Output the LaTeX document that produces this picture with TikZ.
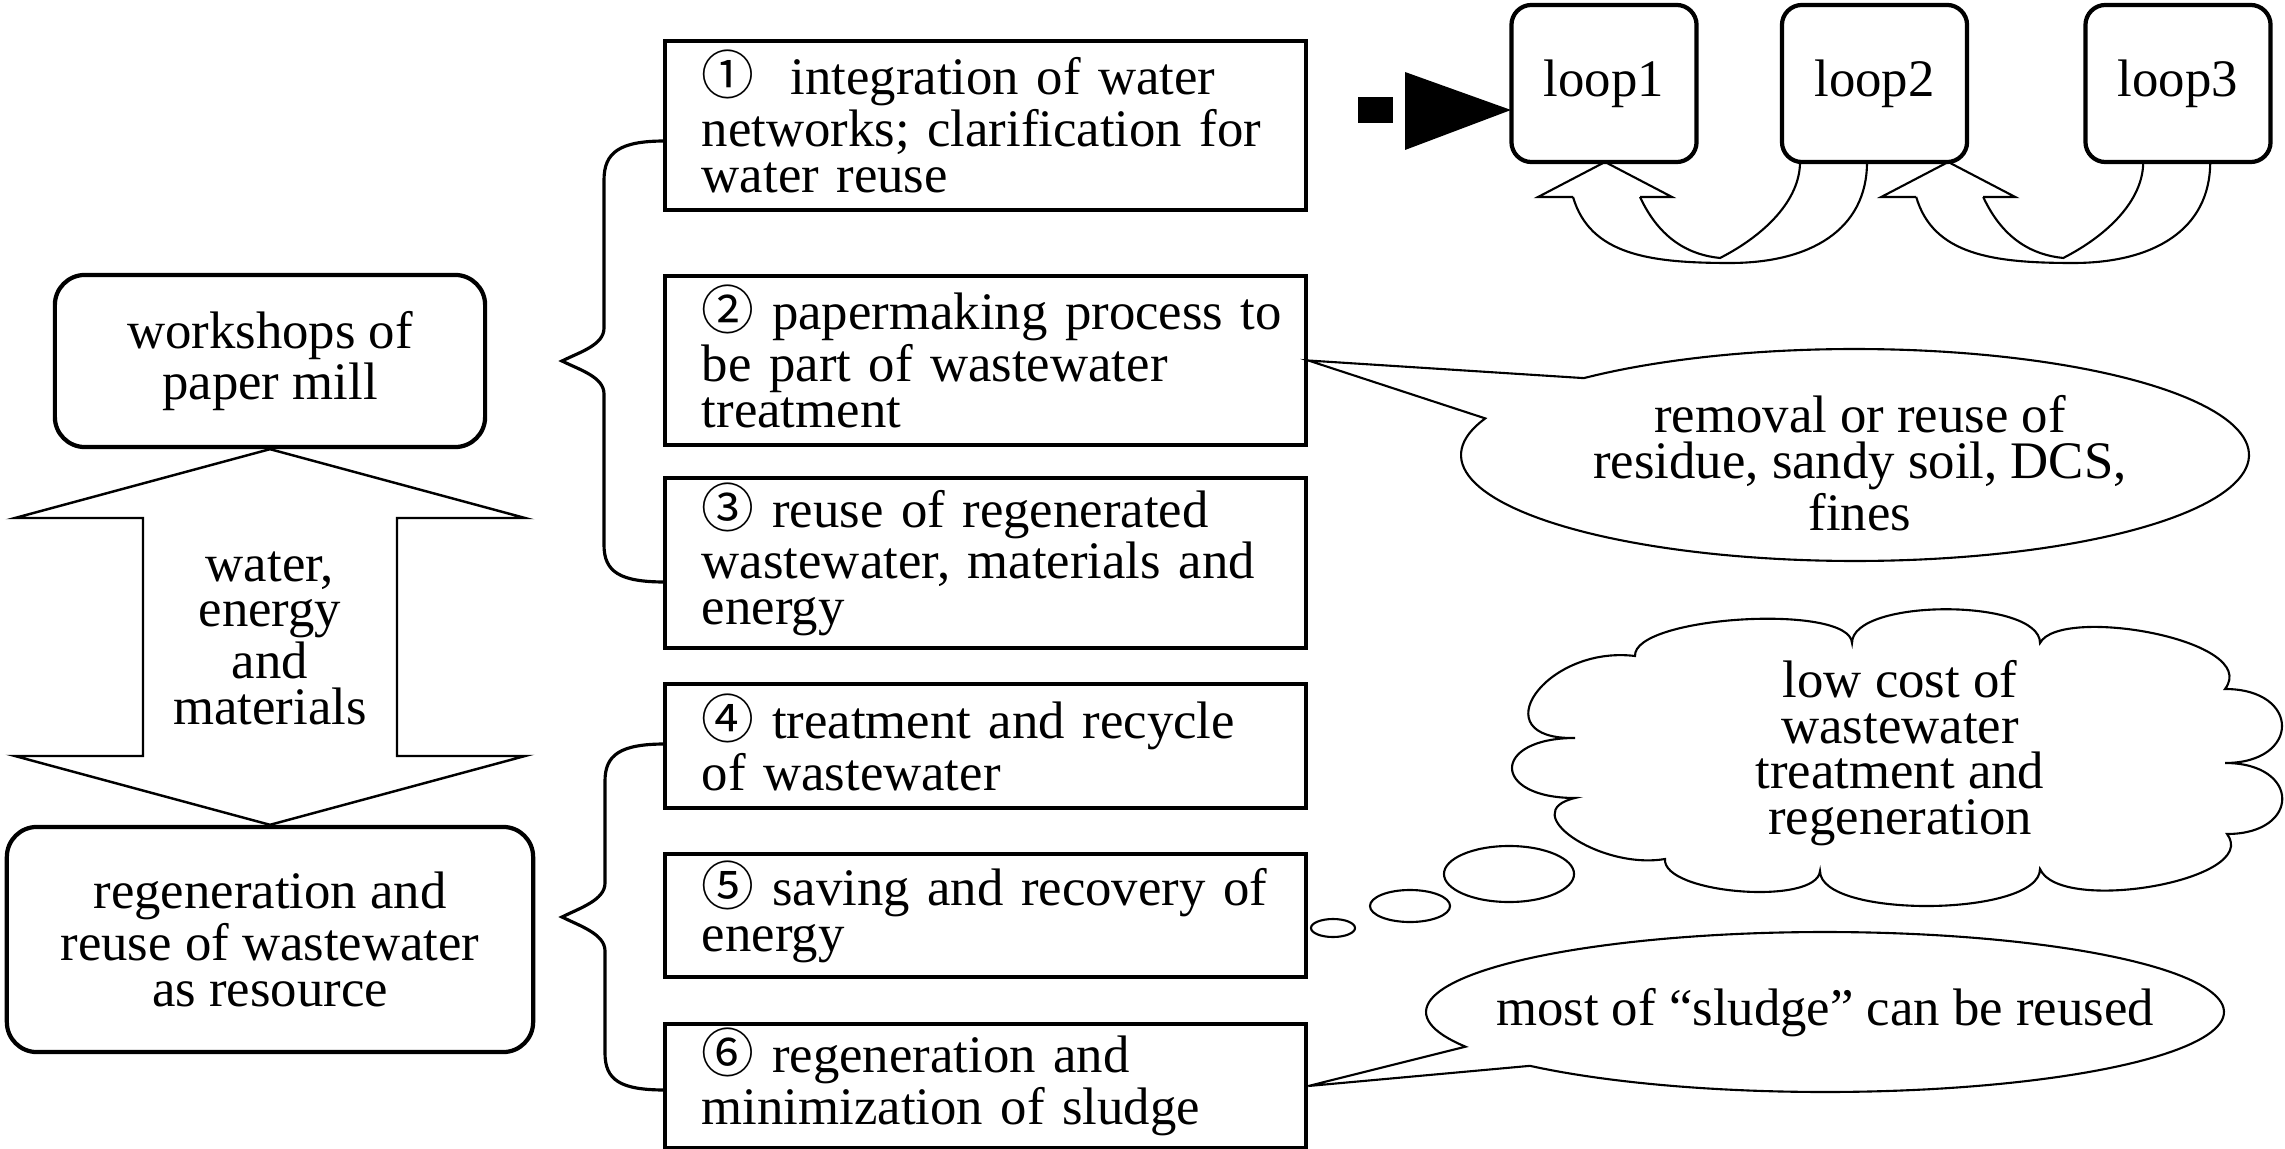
\documentclass[tikz,border=0pt]{standalone}
\usepackage{fontspec}
\setmainfont{Liberation Serif}
\newfontfamily\circfont{Noto Sans CJK SC}
\newcommand{\cnum}[1]{\smash{{\circfont\fontsize{15}{13}\selectfont #1}}}
\newcommand{\bl}[1]{\mbox{#1}}
\begin{document}
\begin{tikzpicture}[x=0.01cm, y=-0.01cm,
  every node/.style={font=\fontsize{15}{13}\selectfont},
  sbox/.style={draw, line width=1.2pt, minimum width=6.41cm, text width=5.67cm, inner xsep=0.37cm, align=left},
  rbox/.style={draw, line width=1.2pt, rounded corners=0.3cm, align=center},
  loopbox/.style={draw, line width=1.2pt, rounded corners=0.2cm, minimum width=1.85cm, minimum height=1.57cm},
  thinline/.style={line width=0.6pt},
  bracestyle/.style={line width=0.9pt},
]
\useasboundingbox (0,0) rectangle (2285,1149);

% left column
\node[rbox, minimum width=4.30cm, minimum height=1.72cm] (ws) at (270,361) {workshops of\\paper mill};
\node[rbox, minimum width=5.26cm, minimum height=2.25cm] (rg) at (270,939.5) {regeneration and\\reuse of wastewater\\as resource};
\draw[line width=0.7pt] (ws.south) -- (525,518) -- (397,518) -- (397,756) -- (525,756) -- (rg.north) -- (15,756) -- (143,756) -- (143,518) -- (15,518) -- cycle;
\node[align=center] (wem) at (270,638) {water,\\energy\\and\\materials};

% right column boxes
\node[sbox, minimum height=1.69cm] (b1) at (985.5,125.5) {\bl{\cnum{①}\hspace{0.35em} integration of water}\\\bl{networks; clarification for}\\\bl{water reuse}};
\node[sbox, minimum height=1.69cm] (b2) at (985.5,360.5) {\bl{\cnum{②} papermaking process to}\\\bl{be part of wastewater}\\\bl{treatment}};
\node[sbox, minimum height=1.70cm] (b3) at (985.5,563) {\bl{\cnum{③} reuse of regenerated}\\\bl{wastewater, materials and}\\\bl{energy}};
\node[sbox, minimum height=1.24cm] (b4) at (985.5,746) {\bl{\cnum{④} treatment and recycle}\\\bl{of wastewater}};
\node[sbox, minimum height=1.23cm] (b5) at (985.5,915.5) {\bl{\cnum{⑤} saving and recovery of}\\\bl{energy}};
\node[sbox, minimum height=1.22cm] (b6) at (985.5,1086) {\bl{\cnum{⑥} regeneration and}\\\bl{minimization of sludge}};

% braces
\draw[bracestyle] (665,141) .. controls (620,141) and (604,152) .. (604,180) -- (604,328) .. controls (604,345) and (580,352) .. (562,361) .. controls (580,370) and (604,377) .. (604,394) -- (604,545) .. controls (604,572) and (620,582) .. (665,582);
\draw[bracestyle] (665,744) .. controls (620,744) and (605,755) .. (605,781) -- (605,883) .. controls (605,900) and (580,908) .. (562,917) .. controls (580,926) and (605,934) .. (605,951) -- (605,1053) .. controls (605,1080) and (620,1090) .. (665,1090);

% loops
\node[loopbox] (l1) at (1604,83.5) {loop1};
\node[loopbox] (l2) at (1874.5,83.5) {loop2};
\node[loopbox] (l3) at (2178,83.5) {loop3};
\coordinate (l1in) at (1511,110);
\fill (1358,97) rectangle (1393,123);
\fill (1405,72) -- (1405,150) -- (l1in) -- cycle;

\foreach \s in {0,3.43}{
\begin{scope}[xshift=\s cm]
\draw[thinline] (1573,197) -- (1538,197) -- (1605,162) -- (1672,197) -- (1640,197);
\draw[thinline] (1573,197) .. controls (1590,255) and (1650,263) .. (1730,263) .. controls (1810,263) and (1867,230) .. (1867,162);
\draw[thinline] (1640,197) .. controls (1660,240) and (1690,255) .. (1720,258) .. controls (1765,235) and (1800,200) .. (1800,162);
\end{scope}
}

% speech bubble 1
\draw[thinline] plot[domain=226.5:560.2, samples=160] ({1855+394*cos(\x)}, {455+106*sin(\x)}) -- (b2.east) -- cycle;
\node[align=center] (t1) at (1860,463) {removal or reuse of\\residue, sandy soil, DCS,\\fines};

% thought cloud
\draw[thinline] (1333,928) ellipse [x radius=0.22cm, y radius=0.09cm];
\draw[thinline] (1410,906) ellipse [x radius=0.40cm, y radius=0.16cm];
\draw[thinline] (1509,874) ellipse [x radius=0.65cm, y radius=0.28cm];
\draw[thinline] (1635,656)
  .. controls (1633,616) and (1850,603) .. (1852,643)
  .. controls (1852,598) and (2040,598) .. (2040,643)
  .. controls (2060,605) and (2262,640) .. (2225,689)
  .. controls (2301,689) and (2301,763) .. (2225,763)
  .. controls (2301,763) and (2301,834) .. (2227,834)
  .. controls (2262,880) and (2060,915) .. (2040,869)
  .. controls (2040,917) and (1820,919) .. (1820,871)
  .. controls (1817,906) and (1662,894) .. (1665,859)
  .. controls (1600,870) and (1515,812) .. (1575,798)
  .. controls (1491,798) and (1491,738) .. (1575,738)
  .. controls (1480,740) and (1545,645) .. (1635,656) -- cycle;
\node[align=center] (clt) at (1900,753) {low cost of\\wastewater\\treatment and\\regeneration};

% speech bubble 3
\draw[thinline] plot[domain=154.3:497.7, samples=160] ({1825+399*cos(\x)}, {1012+80*sin(\x)}) -- (b6.east) -- cycle;
\node (t3) at (1825,1013) {most of “sludge” can be reused};
\end{tikzpicture}
\end{document}
